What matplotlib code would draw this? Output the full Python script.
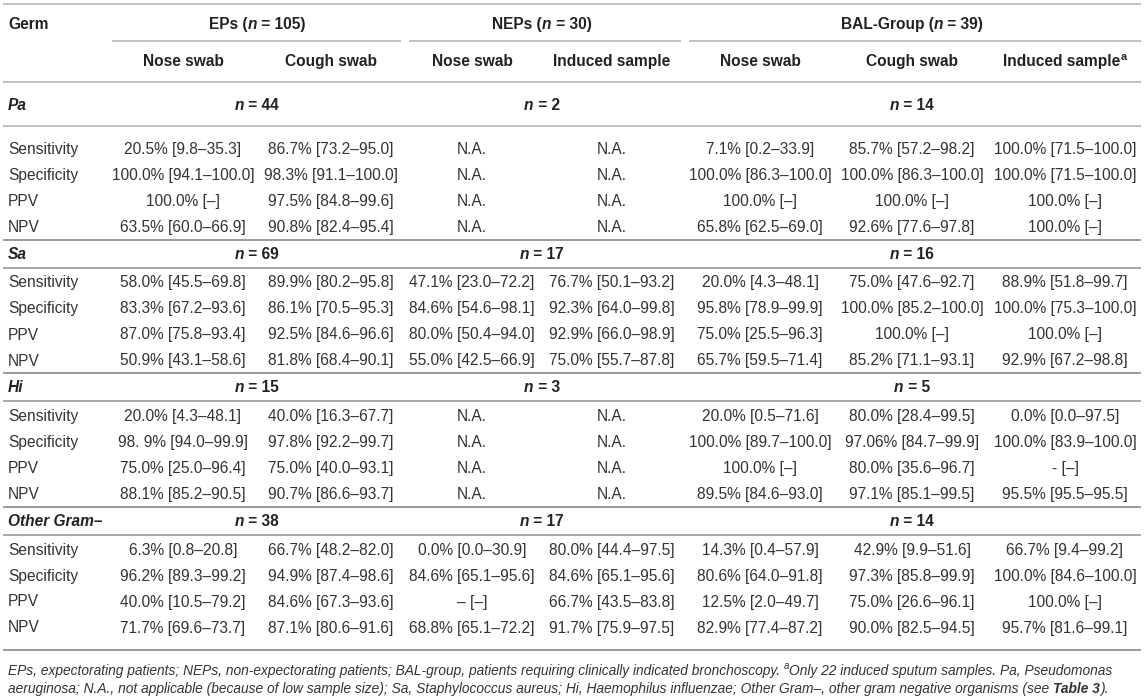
import matplotlib
matplotlib.use("Agg")
import matplotlib.pyplot as plt

plt.rcParams['font.family'] = ['Liberation Sans', 'DejaVu Sans']

# ---------------- data ----------------
groups = ["EPs", "NEPs", "BAL-Group"]
group_n = [105, 30, 39]
sub_headers = ["Nose swab", "Cough swab", "Nose swab", "Induced sample",
               "Nose swab", "Cough swab", "Induced sample"]
metrics = ["Sensitivity", "Specificity", "PPV", "NPV"]
germs = ["Pa", "Sa", "Hi", "Other Gram\u2013"]
germ_n = [[44, 2, 14], [69, 17, 16], [15, 3, 5], [38, 17, 14]]

pa_vals = [
    ["20.5% [9.8\u201335.3]", "86.7% [73.2\u201395.0]", "N.A.", "N.A.",
     "7.1% [0.2\u201333.9]", "85.7% [57.2\u201398.2]", "100.0% [71.5\u2013100.0]"],
    ["100.0% [94.1\u2013100.0]", "98.3% [91.1\u2013100.0]", "N.A.", "N.A.",
     "100.0% [86.3\u2013100.0]", "100.0% [86.3\u2013100.0]", "100.0% [71.5\u2013100.0]"],
    ["100.0% [\u2013]", "97.5% [84.8\u201399.6]", "N.A.", "N.A.",
     "100.0% [\u2013]", "100.0% [\u2013]", "100.0% [\u2013]"],
    ["63.5% [60.0\u201366.9]", "90.8% [82.4\u201395.4]", "N.A.", "N.A.",
     "65.8% [62.5\u201369.0]", "92.6% [77.6\u201397.8]", "100.0% [\u2013]"],
]
sa_vals = [
    ["58.0% [45.5\u201369.8]", "89.9% [80.2\u201395.8]", "47.1% [23.0\u201372.2]", "76.7% [50.1\u201393.2]",
     "20.0% [4.3\u201348.1]", "75.0% [47.6\u201392.7]", "88.9% [51.8\u201399.7]"],
    ["83.3% [67.2\u201393.6]", "86.1% [70.5\u201395.3]", "84.6% [54.6\u201398.1]", "92.3% [64.0\u201399.8]",
     "95.8% [78.9\u201399.9]", "100.0% [85.2\u2013100.0]", "100.0% [75.3\u2013100.0]"],
    ["87.0% [75.8\u201393.4]", "92.5% [84.6\u201396.6]", "80.0% [50.4\u201394.0]", "92.9% [66.0\u201398.9]",
     "75.0% [25.5\u201396.3]", "100.0% [\u2013]", "100.0% [\u2013]"],
    ["50.9% [43.1\u201358.6]", "81.8% [68.4\u201390.1]", "55.0% [42.5\u201366.9]", "75.0% [55.7\u201387.8]",
     "65.7% [59.5\u201371.4]", "85.2% [71.1\u201393.1]", "92.9% [67.2\u201398.8]"],
]
hi_vals = [
    ["20.0% [4.3\u201348.1]", "40.0% [16.3\u201367.7]", "N.A.", "N.A.",
     "20.0% [0.5\u201371.6]", "80.0% [28.4\u201399.5]", "0.0% [0.0\u201397.5]"],
    ["98. 9% [94.0\u201399.9]", "97.8% [92.2\u201399.7]", "N.A.", "N.A.",
     "100.0% [89.7\u2013100.0]", "97.06% [84.7\u201399.9]", "100.0% [83.9\u2013100.0]"],
    ["75.0% [25.0\u201396.4]", "75.0% [40.0\u201393.1]", "N.A.", "N.A.",
     "100.0% [\u2013]", "80.0% [35.6\u201396.7]", "- [\u2013]"],
    ["88.1% [85.2\u201390.5]", "90.7% [86.6\u201393.7]", "N.A.", "N.A.",
     "89.5% [84.6\u201393.0]", "97.1% [85.1\u201399.5]", "95.5% [95.5\u201395.5]"],
]
other_vals = [
    ["6.3% [0.8\u201320.8]", "66.7% [48.2\u201382.0]", "0.0% [0.0\u201330.9]", "80.0% [44.4\u201397.5]",
     "14.3% [0.4\u201357.9]", "42.9% [9.9\u201351.6]", "66.7% [9.4\u201399.2]"],
    ["96.2% [89.3\u201399.2]", "94.9% [87.4\u201398.6]", "84.6% [65.1\u201395.6]", "84.6% [65.1\u201395.6]",
     "80.6% [64.0\u201391.8]", "97.3% [85.8\u201399.9]", "100.0% [84.6\u2013100.0]"],
    ["40.0% [10.5\u201379.2]", "84.6% [67.3\u201393.6]", "\u2013 [\u2013]", "66.7% [43.5\u201383.8]",
     "12.5% [2.0\u201349.7]", "75.0% [26.6\u201396.1]", "100.0% [\u2013]"],
    ["71.7% [69.6\u201373.7]", "87.1% [80.6\u201391.6]", "68.8% [65.1\u201372.2]", "91.7% [75.9\u201397.5]",
     "82.9% [77.4\u201387.2]", "90.0% [82.5\u201394.5]", "95.7% [81.6\u201399.1]"],
]
all_vals = [pa_vals, sa_vals, hi_vals, other_vals]

# ---------------- layout (pixels) ----------------
W, H = 1144, 699
col_x = [183, 331, 472, 612, 760, 912, 1065]
group_x = [257, 542, 912]
group_span = [(112, 401), (409, 681), (689, 1141)]
first_row_y = [149, 282.5, 416, 549.5]
pitch = 26.0
TXT = "#333333"
HDR = "#222222"
RULE = "#b0b0b0"
SEP = "#999999"
FS = 11.2

fig = plt.figure(figsize=(W / 100, H / 100), dpi=100)
ax = fig.add_axes([0, 0, 1, 1])
ax.set_xlim(0, W)
ax.set_ylim(H, 0)
ax.axis("off")
renderer = fig.canvas.get_renderer()


def text_w(s, **kw):
    # width in pixels, counting spaces at the edges
    t1 = ax.text(0, 0, "|" + s + "|", **kw)
    t2 = ax.text(0, 0, "||", **kw)
    w = t1.get_window_extent(renderer).width - t2.get_window_extent(renderer).width
    t1.remove()
    t2.remove()
    return w


def runs(x, y, parts, ha="left", size=FS, color=TXT):
    # parts: (text, weight, style, sup)
    kws = []
    for s, wt, st, sup in parts:
        kws.append(dict(fontsize=size * (0.7 if sup else 1.0), fontweight=wt,
                        fontstyle=st, color=color))
    widths = [text_w(p[0], **k) for p, k in zip(parts, kws)]
    total = sum(widths)
    cx = x - total / 2 if ha == "center" else (x - total if ha == "right" else x)
    for (s, wt, st, sup), k, w in zip(parts, kws, widths):
        ax.text(cx, y - (6 if sup else 0), s, ha="left", va="baseline", **k)
        cx += w


def hline(y, x0=3, x1=1141, color=RULE, lw=1.1):
    ax.plot([x0, x1], [y, y], color=color, lw=lw, solid_capstyle="butt")


BL = 5  # baseline offset from row centre

# header
hline(4)
runs(8, 24 + BL, [("Germ", "bold", "normal", False)], color=HDR)
for g, n, gx, (x0, x1) in zip(groups, group_n, group_x, group_span):
    runs(gx, 24 + BL, [(g + " (", "bold", "normal", False), ("n", "bold", "italic", False),
                       (" = %d)" % n, "bold", "normal", False)], ha="center", color=HDR)
    hline(41, x0, x1)
for i, (s, cx) in enumerate(zip(sub_headers, col_x)):
    if i == len(sub_headers) - 1:
        runs(cx, 61 + BL, [(s, "bold", "normal", False), ("a", "bold", "normal", True)],
             ha="center", color=HDR)
    else:
        runs(cx, 61 + BL, [(s, "bold", "normal", False)], ha="center", color=HDR)
hline(82)

# body
for gi, (germ, ns, vals) in enumerate(zip(germs, germ_n, all_vals)):
    y0 = first_row_y[gi]
    if gi == 0:
        hy = 105
        hline(126)
    else:
        prev_npv = first_row_y[gi - 1] + 3 * pitch
        hline(prev_npv + 12.5, color=SEP, lw=1.4)
        hy = prev_npv + 27
        hline(prev_npv + 40.5, color=SEP, lw=1.2)
    runs(8, hy + BL, [(germ, "bold", "italic", False)], color=HDR)
    for n, gx in zip(ns, group_x):
        runs(gx, hy + BL, [("n", "bold", "italic", False), (" = %d" % n, "bold", "normal", False)],
             ha="center", color=HDR)
    for ri, (m, row) in enumerate(zip(metrics, vals)):
        ry = y0 + ri * pitch
        ax.text(8, ry + BL, m, fontsize=FS, color=TXT, va="baseline")
        for cx, v in zip(col_x, row):
            ax.text(cx, ry + BL, v, fontsize=FS, color=TXT, ha="center", va="baseline")

hline(first_row_y[-1] + 3 * pitch + 22, color=SEP, lw=1.4)

# footnote
FN = 9.95
runs(8, 670 + BL, [
    ("EPs, expectorating patients; NEPs, non-expectorating patients; BAL-group, patients requiring "
     "clinically indicated bronchoscopy. ", "normal", "italic", False),
    ("a", "normal", "italic", True),
    ("Only 22 induced sputum samples. Pa, Pseudomonas", "normal", "italic", False),
], size=FN)
runs(8, 688 + BL, [
    ("aeruginosa; N.A., not applicable (because of low sample size); Sa, Staphylococcus aureus; "
     "Hi, Haemophilus influenzae; Other Gram\u2013, other gram negative organisms (see ", "normal", "italic", False),
    ("Table 3", "bold", "italic", False),
    (").", "normal", "italic", False),
], size=FN)

fig.savefig("out.png", dpi=100)
